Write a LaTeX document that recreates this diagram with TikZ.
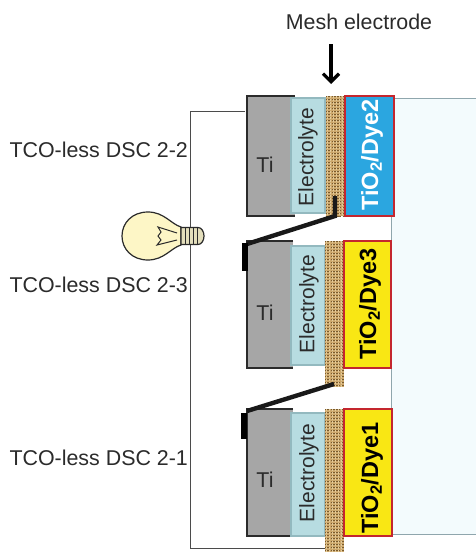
\documentclass[tikz,border=0pt]{standalone}
\usepackage{fontspec}
\setmainfont{Liberation Sans}
\usetikzlibrary{arrows.meta,calc,positioning}
\definecolor{cellTi}{HTML}{A6A6A6}
\definecolor{cellInk}{HTML}{2B2B2B}
\definecolor{cellElectro}{HTML}{B7DCE1}
\definecolor{cellElectroLine}{HTML}{93B9BF}
\definecolor{cellBlue}{HTML}{2BA6E0}
\definecolor{cellYellow}{HTML}{F9E714}
\definecolor{cellRed}{HTML}{C4262E}
\definecolor{cellPanel}{HTML}{F3FBFD}
\definecolor{cellPanelLine}{HTML}{8FA6AD}
\definecolor{meshTan}{HTML}{CDA86C}
\definecolor{meshDark}{HTML}{7A5A2C}
\definecolor{meshPale}{HTML}{E3CC9C}
\definecolor{bulbCream}{HTML}{FDF6C6}
\newcommand{\meshstrip}[3]{% x, top, bottom
  \path[fill=meshTan] (#1,#2) rectangle (#1+19,#3);
  \pgfmathtruncatemacro{\meshnext}{#2+3}
  \foreach \yy in {#2,\meshnext,...,#3} {\draw[meshline,dash pattern=on 4pt off 1.5pt] (#1,\yy) -- (#1+19,\yy);}
  \foreach \xx in {1.5,4.5,7.5,10.5,13.5,16.5} {\draw[meshline,draw=meshPale,dash pattern=on 2pt off 1pt] (#1+\xx,#2) -- (#1+\xx,#3);}
}
\begin{document}
\begin{tikzpicture}[x=1pt,y=-1pt,>=Latex,line join=miter]
\tikzset{label/.style={text=cellInk,font=\fontsize{21.4}{24}\selectfont},
  layer/.style={text=cellInk,font=\fontsize{21}{24}\selectfont,rotate=90},
  dyelabel/.style={font=\fontsize{23.5}{26}\selectfont\bfseries,rotate=90},
  ti/.style={draw=cellInk,fill=cellTi,line width=1.3pt},
  electro/.style={draw=cellElectroLine,fill=cellElectro,line width=1.2pt},
  dye/.style={draw=cellRed,line width=1.4pt},
  wire/.style={draw=cellInk!85,line width=1pt},
  link/.style={draw=black!90,line width=4.4pt},
  meshline/.style={draw=meshDark,line width=0.6pt}}
\useasboundingbox (0,0) rectangle (476,552);
\clip (0,0) rectangle (476,552);
\path[fill=white] (0,0) rectangle (476,552);
% glass panel
\path[draw=cellPanelLine,fill=cellPanel,line width=1pt] (480,98) -- (391,98) -- (391,534) -- (480,534);
% outer wire
\coordinate (wireTop) at (245,111);
\coordinate (wireBottom) at (326,548);
\draw[wire] (wireTop) -- (190,111) -- (190,548) -- (wireBottom);
% top cell
\path[ti] (295,96) -| (247,216) -- (295,216);
\path[electro] (291,98) rectangle (325,213);
\meshstrip{326}{96}{216}
\path[dye,fill=cellBlue] (345,96) rectangle (394,216);
% middle cell
\path[ti] (293,241) -| (247,368) -- (293,368);
\path[electro] (291,246) rectangle (325,365);
\meshstrip{325}{241}{387}
\path[dye,fill=cellYellow] (344,241) rectangle (391,368);
% bottom cell
\path[ti] (293,409) -| (247,536) -- (293,536);
\path[electro] (291,413) rectangle (325,536);
\meshstrip{325}{409}{552}
\path[dye,fill=cellYellow] (344,409) rectangle (392,536);
% labels
\node[label,anchor=base] (meshLabel) at (359,29) {Mesh electrode};
\node[label,anchor=west] (dscTwo) at (6,150) {TCO-less DSC 2-2};
\node[label,anchor=west] (dscThree) at (6,285) {TCO-less DSC 2-3};
\node[label,anchor=west] (dscOne) at (6,458) {TCO-less DSC 2-1};
\node[label] (tiTwo) at (265,165) {Ti};
\node[label] (tiThree) at (265,313) {Ti};
\node[label] (tiOne) at (265,480) {Ti};
\node[layer] (elTwo) at (308,157) {Electrolyte};
\node[layer] (elThree) at (309,304) {Electrolyte};
\node[layer] (elOne) at (309,473) {Electrolyte};
\node[dyelabel,text=white] (dyeTwo) at (372,155) {TiO\textsubscript{2}/Dye2};
\node[dyelabel,text=black] (dyeThree) at (370,304) {TiO\textsubscript{2}/Dye3};
\node[dyelabel,text=black] (dyeOne) at (372,478) {TiO\textsubscript{2}/Dye1};
% arrow
\coordinate (arrowTop) at (331,44);
\coordinate (arrowTip) at (331,84);
\draw[line width=3.2pt,-{Straight Barb[length=8pt,width=16pt,line width=3.2pt]}] (arrowTop) -- (arrowTip);
% series links
\draw[link] (335,196) -- (335,216) -- (247,244);
\path[fill=black] (242,243) rectangle (248,271);
\draw[link] (334,384) -- (247,411);
\path[fill=black] (241,413) rectangle (247,439);
% bulb
\path[draw=cellInk,fill=bulbCream,line width=1.2pt] (181,227) .. controls (171,224) and (164,212) .. (148,212)
  .. controls (132,212) and (122,223) .. (122,236) .. controls (122,249) and (132,260) .. (148,260)
  .. controls (164,260) and (171,248) .. (181,245) -- cycle;
\path[draw=cellInk,fill=bulbCream!70!cellTi,line width=1.2pt] (181,227.5) -- (198,227.5) arc (-90:90:6 and 8.5) -- (181,244.5) -- cycle;
\foreach \xx in {185,189,193,197} {\draw[cellInk,line width=0.9pt] (\xx,227.5) -- (\xx,244.5);}
\draw[cellInk,line width=1pt] (177,233) -- (158,227) -- (161,232) -- (158,236) -- (161,240) -- (157,245) -- (177,240);
\end{tikzpicture}
\end{document}
